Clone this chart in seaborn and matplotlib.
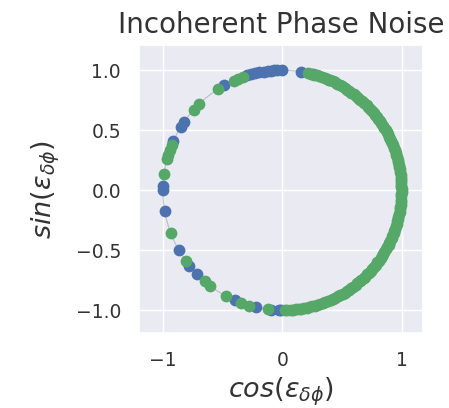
import numpy as np
import pandas as pd
import matplotlib
matplotlib.use("Agg")
import matplotlib.pyplot as plt
import seaborn as sns

# Phase error samples (degrees) for the two noise realisations
phase_blue_deg = [
    180, 178, 190, 156, 148, 145.5, 119, 107, 105, 103, 101, 99, 97, 95.5,
    94, 92.5, 90, 81, 75, 67, -150, -141, -135.5, -113.5, -102.5, -95.5,
    -91.5, -90.5,
]
phase_green_deg = [
    172, 165, 163, 160.5, 158, 138, 134, 122.5, 114, 111.5, 109,
    -159, -144, -130.5, -127, -118, -110, -106, -97,
    77.5, 76, 74.5, 73, 72, 70.5, 69, 68, 66.5, 65, 64, 62.5, 61, 60,
    58.5, 57, 56, 54.5, 53, 52, 50.5, 49, 48, 46.5, 45, 44, 42.5, 41.5,
    40, 39, 37.5, 36.5, 35, 34, 32.5, 31.5, 30, 29, 28, 26.5, 25.5, 24,
    23, 22, 20.5, 19.5, 18, 17, 16, 14.5, 13.5, 12, 11, 10, 8.5, 7.5, 6,
    5, 4, 2.5, 1.5, 0.5, -1, -2, -3, -4.5, -5.5, -7, -8, -9, -10.5, -11.5,
    -13, -14, -15, -16.5, -17.5, -19, -20, -21, -22.5, -23.5, -25, -26,
    -27, -28.5, -29.5, -31, -32, -33.5, -34.5, -36, -37, -38.5, -39.5,
    -41, -42, -43.5, -44.5, -46, -47, -48.5, -49.5, -51, -52, -53.5,
    -54.5, -56, -57, -58.5, -59.5, -61, -62, -63.5, -65, -66, -67.5, -69,
    -70, -71.5, -73, -74, -75.5, -77, -78, -79.5, -81, -82, -83.5, -85,
    -86, -87.5, -88.5,
]

x_ticks = [-1, 0, 1]
y_ticks = [-1.0, -0.5, 0.0, 0.5, 1.0]

sns.set_theme(style="darkgrid")
plt.rcParams["font.family"] = ["DejaVu Sans"]

fig = plt.figure(figsize=(4.49, 4.08), dpi=100)
ax = fig.add_axes([0.3096, 0.1838, 0.6325, 0.7059])

def to_frame(deg):
    rad = np.deg2rad(np.asarray(deg, dtype=float))
    return pd.DataFrame({"cos": np.cos(rad), "sin": np.sin(rad)})

blue = to_frame(phase_blue_deg)
green = to_frame(phase_green_deg)

# faint unit circle guide
t = np.linspace(0, 2 * np.pi, 400)
ax.plot(np.cos(t), np.sin(t), color="#9aa0a8", lw=0.8, alpha=0.6, zorder=1)

sns.scatterplot(data=blue, x="cos", y="sin", color="#4C72B0", s=72,
                linewidth=0, ax=ax, zorder=2)
sns.scatterplot(data=green, x="cos", y="sin", color="#55A868", s=72,
                linewidth=0, ax=ax, zorder=3)

ax.set_xlim(-1.2, 1.18)
ax.set_ylim(-1.19, 1.21)
ax.set_xticks(x_ticks)
ax.set_yticks(y_ticks)
ax.set_xticklabels(["\u22121", "0", "1"])
ax.tick_params(labelsize=13.5, colors="#333333", pad=7)

ax.set_title("Incoherent Phase Noise", fontsize=20, color="#333333", pad=9)
ax.set_xlabel(r"$cos(\varepsilon_{\delta\phi})$", fontsize=19.5, color="#333333", labelpad=4)
ax.set_ylabel(r"$sin(\varepsilon_{\delta\phi})$", fontsize=19.5, color="#333333", labelpad=10)

fig.savefig("out.png", dpi=100)
